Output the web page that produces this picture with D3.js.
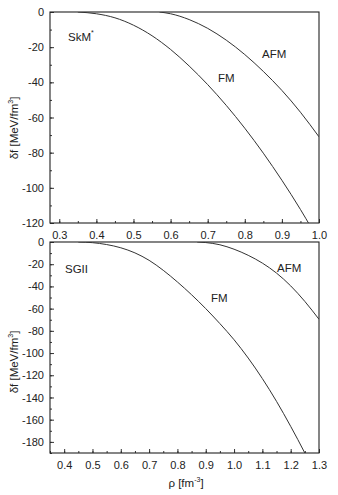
<!DOCTYPE html>
<html>
<head>
<meta charset="utf-8">
<script src="https://cdn.jsdelivr.net/npm/d3@7"></script>
<style>
  body { margin: 0; background: #fff; }
  text { font-family: "Liberation Sans", Arial, sans-serif; fill: #222; }
</style>
</head>
<body>
<svg id="chart" width="338" height="495"></svg>
<script>
// SkM* panel (top)
const skmFM_rho  = [0.35, 0.40, 0.45, 0.50, 0.55, 0.60, 0.65, 0.70, 0.75, 0.80, 0.85, 0.90, 0.95, 0.98];
const skmFM_df   = [0, -1, -3.3, -7.5, -13.5, -21.3, -30.7, -41.3, -53.1, -66.1, -80.3, -95.7, -112.3, -123];
const skmAFM_rho = [0.57, 0.60, 0.65, 0.70, 0.75, 0.80, 0.85, 0.90, 0.95, 1.00];
const skmAFM_df  = [0, -1, -4.3, -9.3, -16, -24.2, -33.8, -44.6, -57, -71];

// SGII panel (bottom)
const sgFM_rho  = [0.45, 0.50, 0.55, 0.60, 0.65, 0.70, 0.75, 0.80, 0.85, 0.90, 0.95, 1.00, 1.05, 1.10, 1.15, 1.20, 1.25, 1.26];
const sgFM_df   = [0, -0.6, -2.3, -5.2, -9.8, -16.5, -25.5, -36, -47.5, -60, -73.5, -88, -104.5, -123, -143.5, -166, -190, -195];
const sgAFM_rho = [0.87, 0.90, 0.95, 1.00, 1.05, 1.10, 1.15, 1.20, 1.25, 1.30];
const sgAFM_df  = [0, -0.5, -2.5, -6.5, -12, -19, -28, -39.5, -53.5, -69.6];

const topXTicks = [0.3, 0.4, 0.5, 0.6, 0.7, 0.8, 0.9, 1.0];
const topYTicks = [0, -20, -40, -60, -80, -100, -120];
const botXTicks = [0.4, 0.5, 0.6, 0.7, 0.8, 0.9, 1.0, 1.1, 1.2, 1.3];
const botYTicks = [0, -20, -40, -60, -80, -100, -120, -140, -160, -180];

var svg = d3.select("#chart");

function zip(a, b) { return a.map(function (v, i) { return [v, b[i]]; }); }

function panel(opt) {
    var x = d3.scaleLinear().domain(opt.xd).range([50, 319]);
    var y = d3.scaleLinear().domain(opt.yd).range([opt.bottom, opt.top]);
    var g = svg.append("g");

    // minor ticks (x every 0.05, y every 10)
    var xm = d3.range(Math.ceil(opt.xd[0] * 20), Math.floor(opt.xd[1] * 20 + 1e-6) + 1).map(function (k) { return k / 20; });
    var ym = d3.range(opt.yd[0], 1, 10);

    var xAxis = d3.axisBottom(x).tickValues(opt.xt).tickFormat(d3.format(".1f")).tickSize(-4).tickPadding(8);
    var yAxis = d3.axisLeft(y).tickValues(opt.yt).tickFormat(function (d) { return d === 0 ? "0" : d; }).tickSize(-4).tickPadding(6);

    g.append("g").attr("transform", "translate(0," + opt.bottom + ")")
        .call(d3.axisBottom(x).tickValues(xm).tickSize(-2).tickFormat(""))
        .call(function (s) { s.select(".domain").remove(); s.selectAll("line").attr("stroke", "#333"); });
    g.append("g").attr("transform", "translate(50,0)")
        .call(d3.axisLeft(y).tickValues(ym).tickSize(-2).tickFormat(""))
        .call(function (s) { s.select(".domain").remove(); s.selectAll("line").attr("stroke", "#333"); });

    var xa = g.append("g").attr("transform", "translate(0," + opt.bottom + ")").call(xAxis);
    var ya = g.append("g").attr("transform", "translate(50,0)").call(yAxis);
    [xa, ya].forEach(function (a) {
        a.select(".domain").remove();
        a.selectAll("line").attr("stroke", "#333");
        a.selectAll("text").style("font-size", "11px").attr("fill", "#222")
            .style("font-family", "'Liberation Sans', Arial, sans-serif");
    });

    // frame
    g.append("rect")
        .attr("x", 50).attr("y", opt.top)
        .attr("width", 269).attr("height", opt.bottom - opt.top)
        .attr("fill", "none").attr("stroke", "#222").attr("stroke-width", 1.1);

    var line = d3.line()
        .x(function (d) { return x(d[0]); })
        .y(function (d) { return y(d[1]); })
        .curve(d3.curveMonotoneX);

    g.append("defs").append("clipPath").attr("id", opt.id)
        .append("rect").attr("x", 50).attr("y", opt.top).attr("width", 269).attr("height", opt.bottom - opt.top);

    opt.series.forEach(function (s) {
        g.append("path")
            .datum(zip(s[0], s[1]))
            .attr("d", line)
            .attr("clip-path", "url(#" + opt.id + ")")
            .attr("fill", "none")
            .attr("stroke", "#333")
            .attr("stroke-width", 1);
    });

    opt.labels.forEach(function (l) {
        var t = g.append("text").attr("x", l[1]).attr("y", l[2]).style("font-size", "11.5px").text(l[0]);
        if (l[3]) t.append("tspan").attr("dy", -6).style("font-size", "7px").text(l[3]);
    });

    // y axis title
    var yt = g.append("text")
        .attr("transform", "translate(18," + opt.ytitle + ") rotate(-90)")
        .attr("text-anchor", "middle")
        .style("font-size", "11.5px");
    yt.append("tspan").text("δf [MeV/fm");
    yt.append("tspan").attr("dy", -5).style("font-size", "7px").text("3");
    yt.append("tspan").attr("dy", 5).text("]");
}

panel({
    id: "clipTop", xd: [0.275, 1.0], yd: [-120, 0], top: 12, bottom: 223,
    xt: topXTicks, yt: topYTicks, ytitle: 128,
    series: [[skmFM_rho, skmFM_df], [skmAFM_rho, skmAFM_df]],
    labels: [["SkM", 68, 41, "*"], ["AFM", 262, 57.5], ["FM", 218, 82]]
});

panel({
    id: "clipBot", xd: [0.35, 1.3], yd: [-190, 0], top: 242, bottom: 453,
    xt: botXTicks, yt: botYTicks, ytitle: 362,
    series: [[sgFM_rho, sgFM_df], [sgAFM_rho, sgAFM_df]],
    labels: [["SGII", 65, 272.5], ["AFM", 277, 272], ["FM", 211, 302]]
});

// x axis title
var xt = svg.append("text").attr("x", 186).attr("y", 487).attr("text-anchor", "middle").style("font-size", "11.5px");
xt.append("tspan").text("ρ [fm");
xt.append("tspan").attr("dy", -5).style("font-size", "7px").text("-3");
xt.append("tspan").attr("dy", 5).text("]");
</script>
</body>
</html>
